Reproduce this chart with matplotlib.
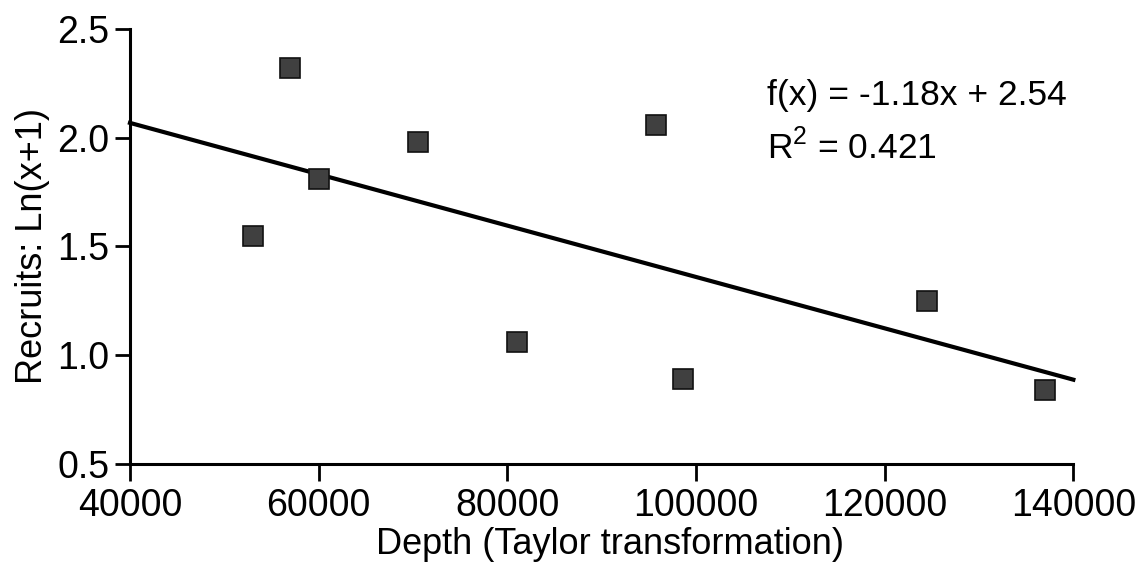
import numpy as np
import matplotlib
matplotlib.use("Agg")
import matplotlib.pyplot as plt

plt.rcParams['font.family'] = ['Liberation Sans', 'DejaVu Sans']
plt.rcParams['mathtext.fontset'] = 'custom'
plt.rcParams['mathtext.rm'] = 'Liberation Sans'

# data
depth = [53000, 57000, 60000, 70500, 81000, 95800, 98600, 124500, 137000]
recruits = [1.55, 2.32, 1.81, 1.98, 1.06, 2.06, 0.89, 1.25, 0.84]

# regression as printed on the chart (x in units of 100000)
slope = -1.18
intercept = 2.54
r2 = 0.421

xticks = [40000, 60000, 80000, 100000, 120000, 140000]
yticks = [0.5, 1.0, 1.5, 2.0, 2.5]

fig = plt.figure(figsize=(11.38, 5.66), dpi=100)
ax = fig.add_axes([0.1142, 0.180, 0.829, 0.769])

xs = np.array([xticks[0], xticks[-1]])
ax.plot(xs, intercept + slope * xs / 100000, color='black', lw=3, clip_on=False, zorder=2)
ax.plot(depth, recruits, linestyle='none', marker='s', markersize=15,
        markerfacecolor='#404040', markeredgecolor='#111111', markeredgewidth=1.2, zorder=3)

ax.set_xlim(xticks[0], xticks[-1])
ax.set_ylim(yticks[0], yticks[-1])
ax.set_xticks(xticks)
ax.set_yticks(yticks)
ax.set_yticklabels(['%.1f' % v for v in yticks])

for s in ['top', 'right']:
    ax.spines[s].set_visible(False)
for s in ['left', 'bottom']:
    ax.spines[s].set_linewidth(2.2)

ax.tick_params(axis='both', labelsize=27, width=2, direction='out')
ax.tick_params(axis='y', length=11, pad=4)
ax.tick_params(axis='x', length=12, pad=5)

ax.set_xlabel('Depth (Taylor transformation)', fontsize=26)
ax.xaxis.set_label_coords(0.509, -0.145)
ax.set_ylabel('Recruits: Ln(x+1)', fontsize=26, labelpad=5)

ax.text(0.675, 0.848, 'f(x) = -1.18x + 2.54', transform=ax.transAxes,
        fontsize=25.5, va='center', ha='left')
ax.text(0.675, 0.728, r'R$^2$ = %.3f' % r2, transform=ax.transAxes,
        fontsize=25.5, va='center', ha='left')

fig.savefig('out.png', dpi=100)
